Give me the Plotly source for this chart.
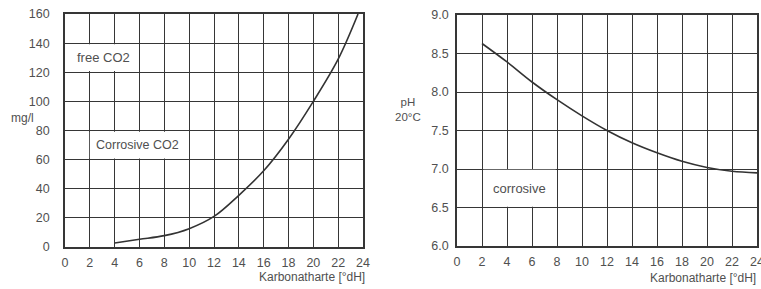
import plotly.graph_objects as go

# Left chart: free CO2 vs carbonate hardness
co2_x = [4, 6, 8, 10, 12, 14, 16, 18, 20, 22, 23.6]
co2_y = [2.8, 5.3, 7.8, 12.6, 21, 35.5, 52.3, 74, 100, 129, 160]

# Right chart: pH (20°C) vs carbonate hardness
ph_x = [2, 4, 6, 8, 10, 12, 14, 16, 18, 20, 22, 24]
ph_y = [8.63, 8.39, 8.13, 7.90, 7.69, 7.50, 7.34, 7.21, 7.10, 7.02, 6.97, 6.95]

x_ticks = list(range(0, 25, 2))
co2_ticks = list(range(0, 161, 20))
ph_ticks = [6.0, 6.5, 7.0, 7.5, 8.0, 8.5, 9.0]
ph_ticktext = ["6.0", "6.5", "7.0", "7.5", "8.0", "8.5", "9.0"]

W, H = 761, 289
GRID = "#363636"
TXT = "#505050"
FONT = "Liberation Sans, Arial, sans-serif"

def px(x):
    return x / W

def py(y):
    return 1 - y / H

fig = go.Figure()
fig.add_trace(go.Scatter(x=co2_x, y=co2_y, mode="lines", line=dict(color="#333", width=1.6, shape="spline"),
                         xaxis="x", yaxis="y", showlegend=False, hoverinfo="skip"))
fig.add_trace(go.Scatter(x=ph_x, y=ph_y, mode="lines", line=dict(color="#333", width=1.6, shape="spline"),
                         xaxis="x2", yaxis="y2", showlegend=False, hoverinfo="skip"))

def ax(domain, rng, tickvals, anchor, ticktext=None, standoff=4):
    d = dict(domain=domain, range=rng, tickvals=tickvals, showgrid=True, gridcolor=GRID, gridwidth=1.4,
             showline=True, linecolor=GRID, linewidth=1.6, mirror=True, zeroline=False, ticks="",
             tickfont=dict(family=FONT, size=12.5, color=TXT), anchor=anchor, fixedrange=True,
             ticklabelstandoff=standoff, automargin=False, ticklabeloverflow="allow")
    if ticktext is not None:
        d["ticktext"] = ticktext
    return d

fig.update_layout(
    width=W, height=H, margin=dict(l=0, r=0, t=0, b=0, autoexpand=False),
    paper_bgcolor="white", plot_bgcolor="white",
    xaxis=ax([px(65), px(363)], [0, 24], x_ticks, "y", standoff=3),
    yaxis=ax([py(247), py(14)], [0, 160], co2_ticks, "x", standoff=11),
    xaxis2=ax([px(457), px(757)], [0, 24], x_ticks, "y2", standoff=3),
    yaxis2=ax([py(246), py(15)], [6.0, 9.0], ph_ticks, "x2", ticktext=ph_ticktext, standoff=4),
)

# white boxes hiding the grid behind the labels
boxes = [
    ("x", "y", 0.12, 5.88, 120.8, 139.2),
    ("x", "y", 2.0, 9.9, 60.8, 79.2),
    ("x2", "y2", 2.1, 7.9, 6.51, 6.99),
]
for xr, yr, x0, x1, y0, y1 in boxes:
    fig.add_shape(type="rect", xref=xr, yref=yr, x0=x0, x1=x1, y0=y0, y1=y1,
                  fillcolor="white", line=dict(width=0), layer="above")

def ann(text, x, y, xref, yref, size=12.5, xanchor="center", yanchor="middle"):
    fig.add_annotation(text=text, x=x, y=y, xref=xref, yref=yref, showarrow=False,
                       xanchor=xanchor, yanchor=yanchor,
                       font=dict(family=FONT, size=size, color=TXT))

ann("free CO2", 3.1, 130, "x", "y", size=13)
ann("Corrosive CO2", 5.8, 70, "x", "y", size=12.5)
ann("corrosive", 5.0, 6.75, "x2", "y2", size=13)

ann("mg/l", px(22), py(118), "paper", "paper", size=12)
ann("pH<br>20°C", px(408), py(109), "paper", "paper", size=11.5)
ann("Karbonatharte [°dH]", px(367), py(277), "paper", "paper", size=12, xanchor="right")
ann("Karbonatharte [°dH]", px(758), py(278), "paper", "paper", size=12, xanchor="right")

fig.write_html(
    "out.html",
    config={"displayModeBar": False},
    post_script="document.body.style.margin='0';document.body.style.overflow='hidden';",
)
